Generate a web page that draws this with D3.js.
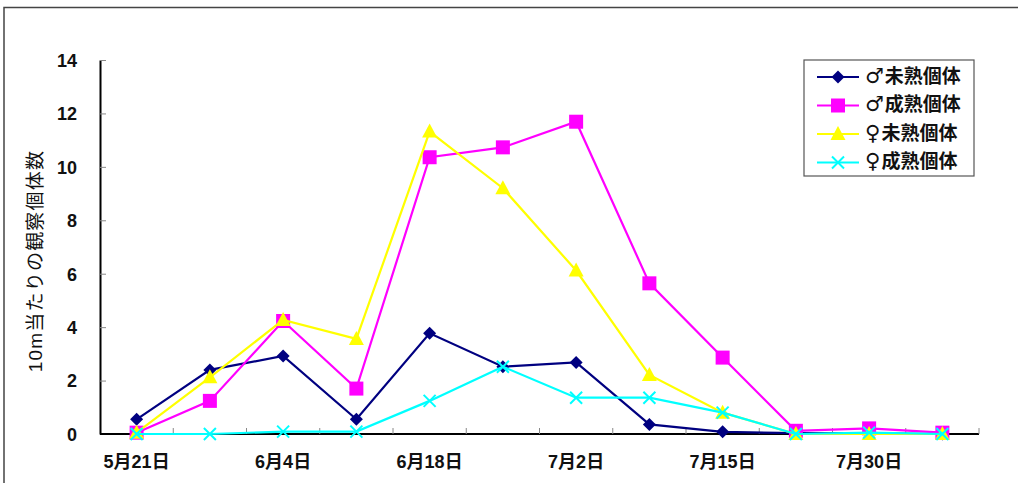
<!DOCTYPE html>
<html>
<head>
<meta charset="utf-8">
<script src="https://cdn.jsdelivr.net/npm/d3@7"></script>
<style>
  html, body { margin: 0; padding: 0; background: #fff; }
  svg { display: block; }
  text { font-family: "Liberation Sans", Arial, "Noto Sans CJK JP", sans-serif; }
</style>
</head>
<body>
<svg id="chart" width="1018" height="483"></svg>
<script>
// Survey dates (labelled every other survey)
const categories = ["5月21日", "", "6月4日", "", "6月18日", "", "7月2日", "", "7月15日", "", "7月30日", ""];

// Individuals observed per 10 m
const maleImmature   = [0.55, 2.40, 2.92, 0.55, 3.77, 2.52, 2.68, 0.36, 0.08, 0.03, 0.02, 0];
const maleMature     = [0.05, 1.24, 4.23, 1.70, 10.36, 10.73, 11.69, 5.64, 2.86, 0.12, 0.21, 0.05];
const femaleImmature = [0.05, 2.12, 4.27, 3.56, 11.32, 9.20, 6.12, 2.21, 0.80, 0, 0, 0];
const femaleMature   = [0, 0, 0.09, 0.09, 1.24, 2.52, 1.36, 1.36, 0.80, 0, 0.05, 0];

const seriesSex = ["♂", "♂", "♀", "♀"];
const seriesNames = ["未熟個体", "成熟個体", "未熟個体", "成熟個体"];
const yTicks = [0, 2, 4, 6, 8, 10, 12, 14];
const yTitle = "10m当たりの観察個体数";

const series = [
  { sex: seriesSex[0], name: seriesNames[0], values: maleImmature,   color: "#000080", symbol: "diamond" },
  { sex: seriesSex[1], name: seriesNames[1], values: maleMature,     color: "#FF00FF", symbol: "square" },
  { sex: seriesSex[2], name: seriesNames[2], values: femaleImmature, color: "#FFFF00", symbol: "triangle" },
  { sex: seriesSex[3], name: seriesNames[3], values: femaleMature,   color: "#00FFFF", symbol: "cross" }
];

const svg = d3.select("#chart");
const margin = { left: 100, top: 60, right: 1018 - 979, bottom: 483 - 434 };
const width = 1018 - margin.left - margin.right;
const height = 483 - margin.top - margin.bottom;

// outer frame
svg.append("rect")
  .attr("x", 4).attr("y", 7.5)
  .attr("width", 1030).attr("height", 500)
  .attr("fill", "none").attr("stroke", "#444").attr("stroke-width", 1.5);

const g = svg.append("g").attr("transform", `translate(${margin.left},${margin.top})`);

const x = d3.scaleBand().domain(d3.range(categories.length)).range([0, width]);
const y = d3.scaleLinear().domain([0, 14]).range([height, 0]);
const cx = i => x(i) + x.bandwidth() / 2;

// y axis
const yAxis = g.append("g")
  .call(d3.axisLeft(y).tickValues(yTicks).tickSize(-6).tickPadding(23).tickSizeOuter(0));
yAxis.select(".domain").attr("stroke", "#000").attr("stroke-width", 2);
yAxis.selectAll(".tick line").attr("stroke", "#888").attr("stroke-width", 1);
yAxis.selectAll(".tick text")
  .attr("font-size", 18).attr("font-weight", "bold").attr("fill", "#111")
  .attr("dy", "0.35em");

// x axis: tick marks on band boundaries, labels on band centres
const xg = g.append("g").attr("transform", `translate(0,${height})`);
xg.append("line").attr("x1", 0).attr("x2", width).attr("y1", 0).attr("y2", 0)
  .attr("stroke", "#000").attr("stroke-width", 2);
const bounds = d3.range(1, categories.length + 1).map(i => x.step() * i);
xg.selectAll("line.tk").data(bounds).join("line").attr("class", "tk")
  .attr("x1", d => d).attr("x2", d => d).attr("y1", 0).attr("y2", -6)
  .attr("stroke", "#888").attr("stroke-width", 1);
xg.selectAll("text.lbl").data(categories).join("text").attr("class", "lbl")
  .attr("x", (d, i) => cx(i)).attr("y", 34)
  .attr("text-anchor", "middle")
  .attr("font-size", 18).attr("font-weight", "bold").attr("fill", "#111")
  .text(d => d);

// y title
svg.append("text")
  .attr("transform", "translate(42,261) rotate(-90)")
  .attr("text-anchor", "middle")
  .attr("font-size", 19).attr("fill", "#111")
  .attr("letter-spacing", 1.2)
  .attr("font-family", "'Noto Sans CJK JP', sans-serif")
  .text(yTitle);

const line = d3.line().x((d, i) => cx(i)).y(d => y(d));

function drawMarker(sel, symbol, color) {
  if (symbol === "diamond") {
    sel.append("path").attr("d", "M0,-6.5 L6.5,0 L0,6.5 L-6.5,0 Z").attr("fill", color);
  } else if (symbol === "square") {
    sel.append("rect").attr("x", -7).attr("y", -7).attr("width", 14).attr("height", 14)
      .attr("fill", color);
  } else if (symbol === "triangle") {
    sel.append("path").attr("d", "M0,-8 L7.5,6 L-7.5,6 Z").attr("fill", color);
  } else {
    sel.append("path").attr("d", "M-6,-6 L6,6 M-6,6 L6,-6")
      .attr("stroke", color).attr("stroke-width", 2).attr("fill", "none");
  }
}

series.forEach(s => {
  g.append("path").datum(s.values)
    .attr("d", line).attr("fill", "none")
    .attr("stroke", s.color).attr("stroke-width", 2.2);
  g.selectAll(null).data(s.values).join("g")
    .attr("transform", (d, i) => `translate(${cx(i)},${y(d)})`)
    .each(function () { drawMarker(d3.select(this), s.symbol, s.color); });
});

// legend
const lg = svg.append("g").attr("transform", "translate(804,60)");
lg.append("rect").attr("width", 170).attr("height", 116)
  .attr("fill", "#fff").attr("stroke", "#555").attr("stroke-width", 1.2);
series.forEach((s, i) => {
  const row = lg.append("g").attr("transform", `translate(0,${17 + i * 28.5})`);
  row.append("line").attr("x1", 13).attr("x2", 55).attr("stroke", s.color).attr("stroke-width", 2.2);
  const m = row.append("g").attr("transform", "translate(34,0)");
  drawMarker(m, s.symbol, s.color);
  const t = row.append("text").attr("x", 61).attr("dy", "0.36em")
    .attr("font-weight", "bold").attr("fill", "#111")
    .attr("font-family", "'Noto Sans CJK JP', sans-serif");
  t.append("tspan").attr("font-family", "'DejaVu Sans', sans-serif")
    .attr("font-size", 21).text(s.sex);
  t.append("tspan").attr("font-size", 19).attr("dx", 1).text(s.name);
});
</script>
</body>
</html>
